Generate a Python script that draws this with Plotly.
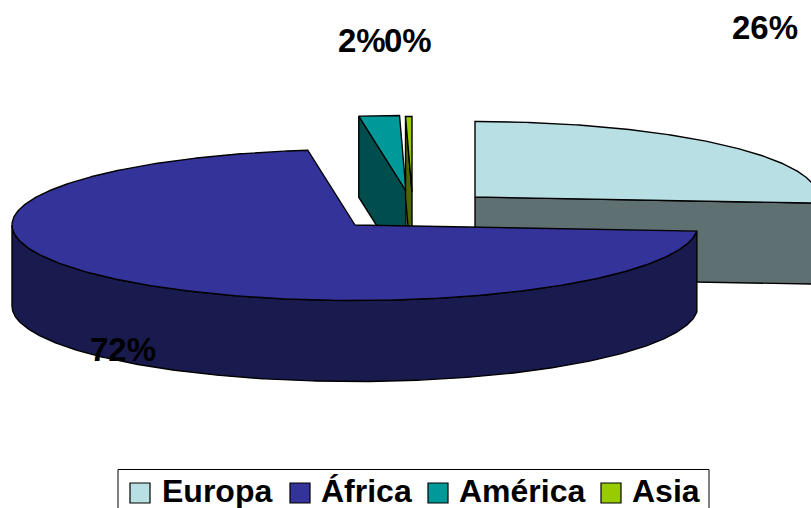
import numpy as np
import plotly.graph_objects as go

# --- data ---
regions = ["Europa", "África", "América", "Asia"]
shares = [26.3, 71.5, 1.9, 0.3]

# --- style / layout (axes are in page pixels) ---
PAGE_W, PAGE_H = 811, 508
top_colors = ["#b8dfe3", "#333399", "#009999", "#99cc00"]
side_colors = ["#5f7073", "#191a4d", "#004d4d", "#4d6600"]
centers = [(475, 197), (355, 225), (406, 191), (412, 192)]
label_pos = [(765, 27), (123, 349), (362, 40), (408, 40)]
swatch_x = [140, 300, 438, 611]
legend_text_x = [161, 320, 458, 631]
SWATCH_Y = 493
LEGEND_TEXT_Y = 491
RX, RY, DEPTH = 343, 75.5, 81
FONT = "Liberation Sans"
LINE = dict(color="#000000", width=1.4)


def arc(c, a0, a1, dy=0.0):
    t = np.radians(np.linspace(a0, a1, max(3, int(abs(a1 - a0) * 2))))
    return c[0] + RX * np.sin(t), c[1] - RY * np.cos(t) + dy


def add_poly(fig, xs, ys, color):
    fig.add_trace(go.Scatter(x=np.r_[xs, xs[0]], y=np.r_[ys, ys[0]], mode="lines",
                             fill="toself", fillcolor=color, line=LINE,
                             hoverinfo="skip", showlegend=False))


bounds = np.cumsum([0] + shares) * 3.6
fig = go.Figure()

# back to front: Europa, América, Asia, África
for i in [0, 2, 3, 1]:
    c, a0, a1 = centers[i], bounds[i], bounds[i + 1]
    if i == 1:
        xa, ya = arc(c, a0, 270)
        xb, yb = arc(c, a0, 270, DEPTH)
        add_poly(fig, np.r_[xa, xb[::-1]], np.r_[ya, yb[::-1]], side_colors[i])
    else:
        cut = a1 if i == 0 else a0
        ex, ey = arc(c, cut, cut)
        ex, ey = ex[0], ey[0]
        add_poly(fig, np.array([c[0], ex, ex, c[0]]),
                 np.array([c[1], ey, ey + DEPTH, c[1] + DEPTH]), side_colors[i])
    xt, yt = arc(c, a0, a1)
    add_poly(fig, np.r_[c[0], xt], np.r_[c[1], yt], top_colors[i])

for v, (x, y) in zip(shares, label_pos):
    fig.add_annotation(x=x, y=y, text=f"{v:.0f}%", showarrow=False,
                       font=dict(family=FONT, size=33, color="#000000", weight=700))

# legend: frame, swatches, names
fig.add_shape(type="rect", x0=118, x1=709, y0=469.5, y1=PAGE_H + 20,
              line=dict(color="#000000", width=1), fillcolor="rgba(0,0,0,0)", layer="above")
fig.add_trace(go.Scatter(x=swatch_x, y=[SWATCH_Y] * len(regions), mode="markers",
                         marker=dict(symbol="square", size=20, color=top_colors,
                                     line=dict(color="#000000", width=1.2)),
                         hoverinfo="skip", showlegend=False))
for name, x in zip(regions, legend_text_x):
    fig.add_annotation(x=x, y=LEGEND_TEXT_Y, text=name, showarrow=False, xanchor="left",
                       borderpad=0,
                       font=dict(family=FONT, size=32, color="#000000", weight=700))

fig.update_layout(
    width=PAGE_W, height=PAGE_H, margin=dict(l=0, r=0, t=0, b=0),
    paper_bgcolor="#ffffff", plot_bgcolor="rgba(0,0,0,0)",
    xaxis=dict(range=[0, PAGE_W], visible=False, fixedrange=True),
    yaxis=dict(range=[PAGE_H, 0], visible=False, fixedrange=True),
    showlegend=False,
)
fig.write_html(
    "out.html",
    config={"displayModeBar": False},
    post_script="document.body.style.margin='0';"
                "document.documentElement.style.overflow='hidden';",
)
